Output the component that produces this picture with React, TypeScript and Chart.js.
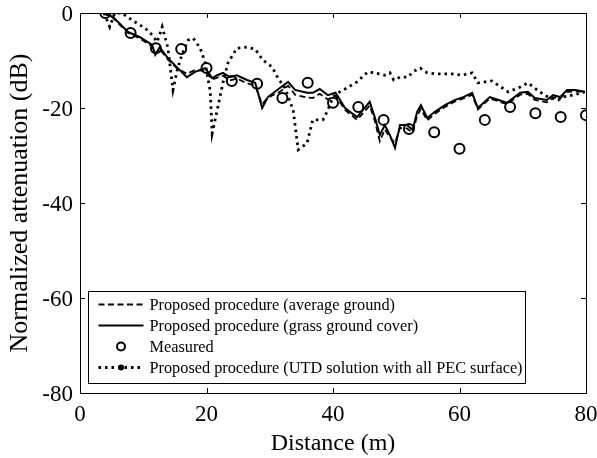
import React, { useEffect, useRef } from "react";
import { Chart, registerables } from "chart.js";

Chart.register(...registerables);

// ---- Data ----
const modelDistance = [3.6, 5.2, 7.6, 9.5, 11.4, 11.9, 12.6, 13.9, 15.3, 16.9, 18.2, 19.8, 20.9, 21.7, 22.6, 23.7, 24.8, 26.4, 27.7, 28.8, 29.7, 31.6, 32.9, 34.0, 35.9, 36.8, 37.9, 39.2, 40.4, 41.9, 43.8, 45.8, 46.6, 47.4, 48.2, 49.0, 49.8, 50.6, 51.7, 52.6, 53.3, 53.9, 54.9, 56.1, 57.7, 59.3, 60.6, 62.0, 62.9, 64.8, 67.5, 69.6, 70.8, 71.9, 73.8, 74.8, 75.9, 77.0, 78.3, 79.8];
const averageGround = [0, -1.0, -4.2, -5.4, -7.0, -8.5, -7.6, -9.8, -11.6, -12.8, -12.0, -12.2, -14.0, -13.6, -13.2, -14.2, -13.8, -14.8, -15.3, -19.2, -17.8, -16.6, -15.3, -17.2, -17.8, -17.9, -17.0, -18.2, -17.4, -20.4, -22.5, -19.5, -22.6, -27.0, -24.5, -26.2, -27.4, -24.2, -24.3, -25.2, -21.6, -20.2, -22.6, -21.2, -19.8, -18.6, -18.0, -17.2, -20.3, -18.0, -19.2, -17.2, -17.0, -18.3, -18.8, -17.8, -18.0, -16.6, -16.5, -16.6];
const grassCover = [0, -0.8, -4.0, -5.1, -6.7, -8.8, -7.2, -9.5, -11.4, -13.5, -12.4, -11.6, -13.7, -13.1, -12.6, -13.5, -13.1, -14.1, -14.7, -20.0, -17.7, -15.8, -14.5, -16.2, -16.8, -16.8, -16.0, -17.3, -16.8, -20.0, -21.9, -18.7, -21.9, -25.7, -23.6, -25.7, -28.4, -23.6, -23.6, -24.6, -20.8, -19.4, -22.1, -20.8, -19.4, -18.3, -17.7, -16.8, -20.0, -17.7, -18.9, -16.8, -16.6, -17.9, -18.3, -17.3, -17.7, -16.2, -16.2, -16.6];

const measuredDistance = [4, 8, 12, 16, 20, 24, 28, 32, 36, 40, 44, 48, 52, 56, 60, 64, 68, 72, 76, 80];
const measured = [0, -4.2, -7.4, -7.6, -11.6, -14.3, -14.9, -17.9, -14.7, -18.9, -19.8, -22.5, -24.4, -25.1, -28.6, -22.5, -19.8, -21.1, -21.9, -21.5];

const utdDistance = [3.8, 4.7, 5.5, 6.6, 8.7, 10.3, 11.4, 12.2, 13.0, 13.9, 14.7, 15.3, 16.1, 17.1, 17.9, 19.0, 19.8, 20.6, 20.9, 21.7, 22.6, 23.4, 24.8, 26.4, 27.7, 28.9, 30.4, 31.3, 32.4, 33.7, 34.5, 35.9, 36.8, 38.4, 39.2, 40.0, 40.8, 41.9, 43.8, 45.5, 46.6, 48.2, 49.0, 49.6, 50.6, 51.9, 52.6, 53.8, 54.9, 56.1, 58.8, 60.4, 62.0, 62.9, 65.1, 67.7, 69.6, 70.8, 72.7, 74.0, 75.6, 76.4, 77.9, 79.8];
const utdPec = [0, -2.9, 0, 0, -1.9, -3.2, -4.6, -6.1, -2.9, -7.4, -16.2, -12.4, -8.8, -5.7, -5.3, -7.4, -10.5, -16.6, -25.3, -20.4, -14.7, -10.5, -7.4, -7.2, -7.6, -9.9, -11.4, -13.7, -15.8, -20.4, -28.8, -27.4, -22.5, -22.5, -20.4, -17.7, -16.8, -16.0, -14.5, -12.4, -12.6, -13.1, -12.6, -14.1, -13.5, -13.5, -12.4, -11.6, -12.6, -12.8, -12.8, -13.1, -12.6, -14.7, -14.3, -16.6, -15.6, -14.7, -16.6, -17.7, -18.3, -17.7, -17.3, -16.6];

const xTicks = [0, 20, 40, 60, 80];
const yTicks = [0, -20, -40, -60, -80];

const legendLabels = [
  "Proposed procedure (average ground)",
  "Proposed procedure (grass ground cover)",
  "Measured",
  "Proposed procedure (UTD solution with all PEC surface)",
];

const xTitle = "Distance (m)";
const yTitle = "Normalized attenuation (dB)";

const FONT = "'Liberation Serif', 'Times New Roman', Times, serif";

const toPoints = (xs: number[], ys: number[]) => xs.map((x, i) => ({ x, y: ys[i] }));

const clearScalePadding = (s: any) => {
  s.paddingTop = 0;
  s.paddingBottom = 0;
  s.paddingLeft = 0;
  s.paddingRight = 0;
};

const framePlugin = {
  id: "frameAndLegend",
  afterDraw(chart: any) {
    const { ctx, chartArea } = chart;
    const { left, right, top, bottom } = chartArea;
    const xs = chart.scales.x;
    const ys = chart.scales.y;
    ctx.save();
    ctx.strokeStyle = "#000";
    ctx.lineWidth = 1;
    ctx.setLineDash([]);
    ctx.strokeRect(Math.round(left) + 0.5, Math.round(top) + 0.5, Math.round(right - left), Math.round(bottom - top));
    const tl = 5;
    ctx.beginPath();
    xTicks.forEach((v) => {
      const px = Math.round(xs.getPixelForValue(v)) + 0.5;
      ctx.moveTo(px, bottom);
      ctx.lineTo(px, bottom - tl);
      ctx.moveTo(px, top);
      ctx.lineTo(px, top + tl);
    });
    yTicks.forEach((v) => {
      const py = Math.round(ys.getPixelForValue(v)) + 0.5;
      ctx.moveTo(left, py);
      ctx.lineTo(left + tl, py);
      ctx.moveTo(right, py);
      ctx.lineTo(right - tl, py);
    });
    ctx.stroke();

    const bx = Math.round(left) + 8.5;
    const bw = 437;
    const bh = 92;
    const by = Math.round(bottom) - 101.5;
    ctx.fillStyle = "#fff";
    ctx.fillRect(bx, by, bw, bh);
    ctx.strokeRect(bx, by, bw, bh);

    const sx0 = bx + 10;
    const sx1 = bx + 55;
    const tx = bx + 61;
    ctx.font = `16.3px ${FONT}`;
    ctx.textBaseline = "middle";
    ctx.textAlign = "left";
    legendLabels.forEach((label, i) => {
      const ry = by + 14 + i * 21;
      const ly = ry - 1;
      ctx.strokeStyle = "#000";
      ctx.fillStyle = "#000";
      if (i === 0) {
        ctx.lineWidth = 1.8;
        ctx.setLineDash([6, 3.5]);
        ctx.beginPath();
        ctx.moveTo(sx0, ly);
        ctx.lineTo(sx1, ly);
        ctx.stroke();
      } else if (i === 1) {
        ctx.lineWidth = 2;
        ctx.setLineDash([]);
        ctx.beginPath();
        ctx.moveTo(sx0, ly);
        ctx.lineTo(sx1, ly);
        ctx.stroke();
      } else if (i === 2) {
        ctx.lineWidth = 2;
        ctx.setLineDash([]);
        ctx.beginPath();
        ctx.arc((sx0 + sx1) / 2, ly, 4, 0, Math.PI * 2);
        ctx.stroke();
      } else {
        ctx.lineWidth = 2.8;
        ctx.setLineDash([2.5, 4]);
        ctx.beginPath();
        ctx.moveTo(sx0, ly);
        ctx.lineTo(sx1, ly);
        ctx.stroke();
        ctx.setLineDash([]);
        ctx.beginPath();
        ctx.arc((sx0 + sx1) / 2, ly, 3, 0, Math.PI * 2);
        ctx.fill();
      }
      ctx.setLineDash([]);
      ctx.fillStyle = "#000";
      ctx.fillText(label, tx, ry);
    });
    ctx.restore();
  },
};

export default function App() {
  const canvasRef = useRef<HTMLCanvasElement | null>(null);

  useEffect(() => {
    document.body.style.margin = "0";
    const canvas = canvasRef.current;
    if (!canvas) return;
    const chart = new Chart(canvas, {
      type: "line",
      data: {
        datasets: [
          {
            label: legendLabels[0],
            data: toPoints(modelDistance, averageGround),
            borderColor: "#000",
            borderWidth: 1.8,
            borderDash: [6, 3.5],
            pointRadius: 0,
            tension: 0,
            fill: false,
          },
          {
            label: legendLabels[1],
            data: toPoints(modelDistance, grassCover),
            borderColor: "#000",
            borderWidth: 2,
            pointRadius: 0,
            tension: 0,
            fill: false,
          },
          {
            label: legendLabels[3],
            data: toPoints(utdDistance, utdPec),
            borderColor: "#000",
            borderWidth: 2.8,
            borderDash: [2.5, 4],
            pointRadius: 0,
            tension: 0,
            fill: false,
          },
          {
            label: legendLabels[2],
            data: toPoints(measuredDistance, measured),
            showLine: false,
            borderColor: "#000",
            backgroundColor: "rgba(0,0,0,0)",
            pointStyle: "circle",
            pointRadius: 5,
            pointBorderWidth: 2,
            pointBorderColor: "#000",
            pointBackgroundColor: "rgba(0,0,0,0)",
          },
        ],
      },
      options: {
        responsive: false,
        animation: false,
        layout: {
          autoPadding: false,
          padding: { left: 0, top: 13, right: 11, bottom: 0 },
        },
        plugins: {
          legend: { display: false },
          tooltip: { enabled: false },
        },
        scales: {
          x: {
            type: "linear",
            min: 0,
            max: 80,
            afterFit: (s: any) => {
              s.height = 65;
              clearScalePadding(s);
            },
            afterBuildTicks: (s: any) => {
              s.ticks = xTicks.map((v) => ({ value: v }));
            },
            ticks: {
              color: "#000",
              font: { family: FONT, size: 23 },
              padding: 8,
              maxRotation: 0,
            },
            grid: { display: false, drawTicks: false },
            border: { display: false },
            title: {
              display: true,
              text: xTitle,
              color: "#000",
              font: { family: FONT, size: 24 },
              padding: { top: 0, bottom: 0 },
            },
          },
          y: {
            type: "linear",
            min: -80,
            max: 0,
            afterFit: (s: any) => {
              s.width = 80;
              clearScalePadding(s);
            },
            afterBuildTicks: (s: any) => {
              s.ticks = yTicks.map((v) => ({ value: v }));
            },
            ticks: {
              color: "#000",
              font: { family: FONT, size: 23 },
              padding: 7,
              labelOffset: 2,
            },
            grid: { display: false, drawTicks: false },
            border: { display: false },
            title: {
              display: true,
              text: yTitle,
              color: "#000",
              font: { family: FONT, size: 26 },
              padding: { top: 5, bottom: 0 },
            },
          },
        },
      },
      plugins: [framePlugin],
    });
    return () => chart.destroy();
  }, []);

  return (
    <div style={{ position: "absolute", left: 0, top: 0, width: 597, height: 458, background: "#fff" }}>
      <canvas ref={canvasRef} width={597} height={458} style={{ width: 597, height: 458, display: "block" }} />
    </div>
  );
}
